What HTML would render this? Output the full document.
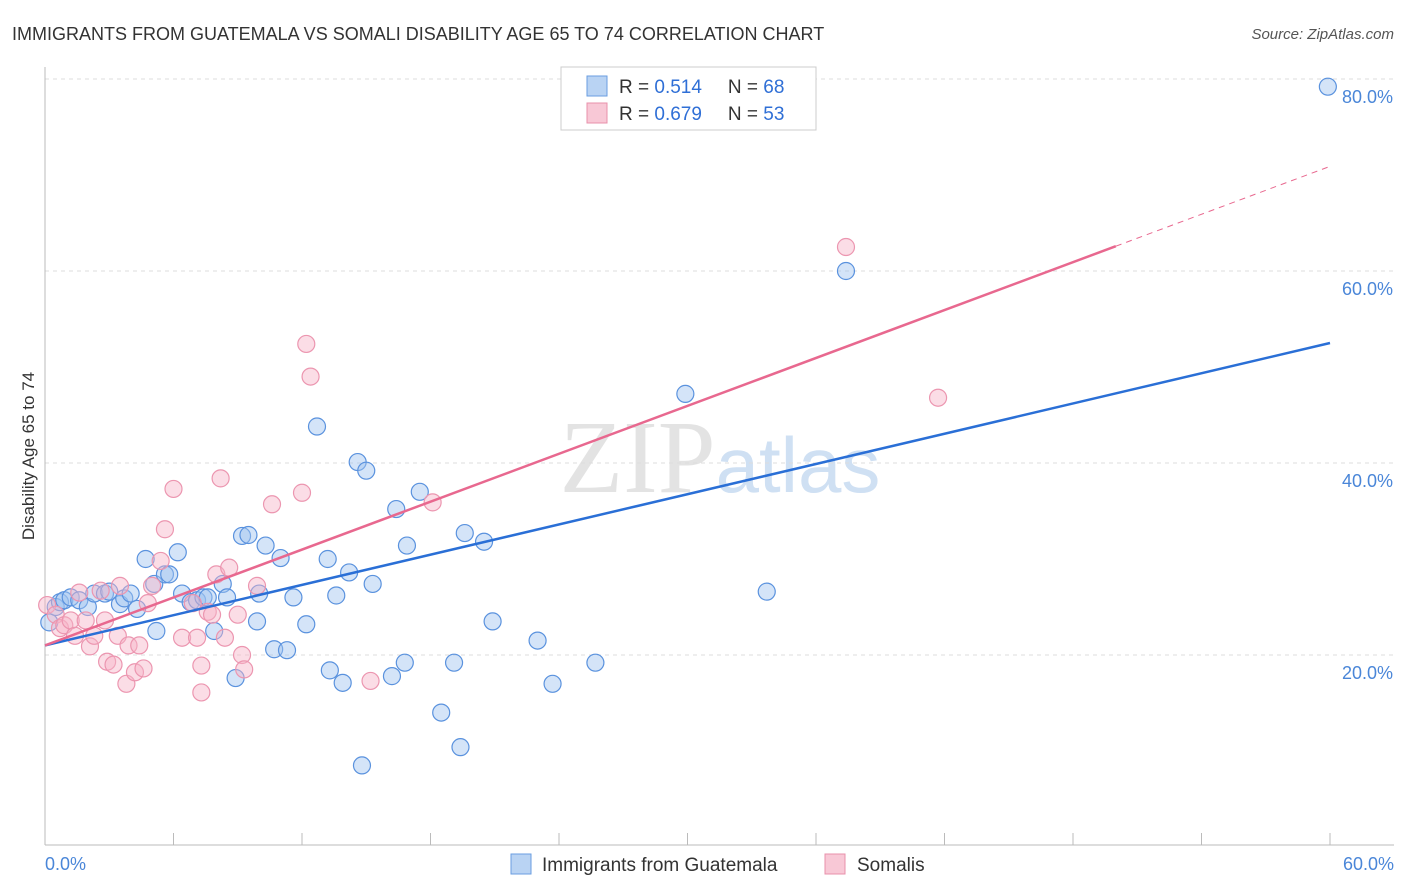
<!DOCTYPE html>
<html><head><meta charset="utf-8"><style>
body{margin:0;background:#fff;font-family:"Liberation Sans",sans-serif;}
svg{display:block}
</style></head><body>
<svg id="chart" width="1406" height="892">
<text x="12" y="40" font-size="18" fill="#333">IMMIGRANTS FROM GUATEMALA VS SOMALI DISABILITY AGE 65 TO 74 CORRELATION CHART</text>
<text x="1394" y="39" font-size="15" fill="#555" font-style="italic" text-anchor="end">Source: ZipAtlas.com</text>
<text x="720" y="492" font-size="104" fill="#e3e3e3" text-anchor="middle" font-family="Liberation Serif,serif">ZIP<tspan fill="#cfe0f3" font-family="Liberation Sans,sans-serif" font-size="78">atlas</tspan></text>
<g id="grid"></g>
<line x1="45" y1="67" x2="45" y2="845" stroke="#bbb"/>
<line x1="45" y1="845" x2="1394" y2="845" stroke="#bbb"/>
<text transform="translate(34,456) rotate(-90)" font-size="17" fill="#333" text-anchor="middle">Disability Age 65 to 74</text>
<text x="45" y="870" font-size="18" fill="#4a86d8">0.0%</text>
<text x="1394" y="870" font-size="18" fill="#4a86d8" text-anchor="end">60.0%</text>
<g id="points"></g>
<g id="lines"></g>
<g>
<rect x="561" y="67" width="255" height="63" fill="#fff" stroke="#ccc"/>
<rect x="587" y="76" width="20" height="20" fill="#b9d3f3" stroke="#6a9ee0"/>
<rect x="587" y="103" width="20" height="20" fill="#f8c8d6" stroke="#e890ab"/>
<text x="619" y="93" font-size="19" fill="#333">R = <tspan fill="#2f6fd6">0.514</tspan><tspan dx="26">N = </tspan><tspan fill="#2f6fd6">68</tspan></text>
<text x="619" y="120" font-size="19" fill="#333">R = <tspan fill="#2f6fd6">0.679</tspan><tspan dx="26">N = </tspan><tspan fill="#2f6fd6">53</tspan></text>
</g>
<g>
<rect x="511" y="854" width="20" height="20" fill="#b9d3f3" stroke="#6a9ee0"/>
<text x="542" y="871" font-size="19" fill="#333">Immigrants from Guatemala</text>
<rect x="825" y="854" width="20" height="20" fill="#f8c8d6" stroke="#e890ab"/>
<text x="857" y="871" font-size="19" fill="#333">Somalis</text>
</g>
</svg>
<script>
const yTicks=[20,40,60,80];
const xTicks=[0,6,12,18,24,30,36,42,48,54,60];
const blueX=[0.2,0.5,0.7,0.9,1.2,1.6,2.0,2.3,2.8,3.0,3.5,3.7,4.0,4.3,4.7,5.1,5.2,5.6,5.8,6.2,6.4,6.8,7.1,7.4,7.6,7.9,8.3,8.5,8.9,9.2,9.5,9.9,10.0,10.3,10.7,11.0,11.3,11.6,12.2,12.7,13.2,13.3,13.6,13.9,14.2,14.6,14.8,15.0,15.3,16.2,16.4,16.8,16.9,17.5,18.5,19.1,19.4,19.6,20.5,20.9,23.0,23.7,25.7,29.9,33.7,37.4,59.9];
const blueY=[23.4,25.0,25.5,25.7,26.0,25.7,25.0,26.4,26.4,26.6,25.3,25.9,26.4,24.8,30.0,27.4,22.5,28.4,28.4,30.7,26.4,25.5,25.7,26.0,26.0,22.5,27.4,26.0,17.6,32.4,32.5,23.5,26.4,31.4,20.6,30.1,20.5,26.0,23.2,43.8,30.0,18.4,26.2,17.1,28.6,40.1,8.5,39.2,27.4,17.8,35.2,19.2,31.4,37.0,14.0,19.2,10.4,32.7,31.8,23.5,21.5,17.0,19.2,47.2,26.6,60.0,79.2];
const pinkX=[0.1,0.5,0.7,0.9,1.2,1.4,1.6,1.9,2.1,2.3,2.6,2.8,2.9,3.2,3.4,3.5,3.8,3.9,4.2,4.4,4.6,4.8,5.0,5.4,5.6,6.0,6.4,6.9,7.1,7.3,7.3,7.6,7.8,8.0,8.2,8.4,8.6,9.0,9.2,9.3,9.9,10.6,12.0,12.2,12.4,15.2,18.1,37.4,41.7];
const pinkY=[25.2,24.2,22.8,23.1,23.6,22.0,26.5,23.6,20.9,22.0,26.7,23.6,19.3,19.0,22.0,27.2,17.0,21.0,18.2,21.0,18.6,25.4,27.2,29.8,33.1,37.3,21.8,25.4,21.8,18.9,16.1,24.5,24.2,28.4,38.4,21.8,29.1,24.2,20.0,18.5,27.2,35.7,36.9,52.4,49.0,17.3,35.9,62.5,46.8];
const blueLine=[21.0,52.5];
const pinkLine=[21.0,70.9];
const pinkSolidEnd=50;
const X=v=>45+v/60*1285;
const Y=v=>847-v*9.6;
const NS="http://www.w3.org/2000/svg";
function mk(t,a,p){const e=document.createElementNS(NS,t);for(const k in a)e.setAttribute(k,a[k]);p.appendChild(e);return e;}
const grid=document.getElementById('grid');
yTicks.forEach(v=>{
 const l=mk('line',{x1:45,x2:1394,y1:Y(v),y2:Y(v),stroke:'#ddd','stroke-dasharray':'4,4'},grid);
 
 
 const t=mk('text',{x:1393,y:Y(v)+24,'font-size':18,fill:'#4a86d8','text-anchor':'end'},grid);
 t.textContent=v.toFixed(1)+'%';
 
 
});
xTicks.forEach(v=>{
 const l=mk('line',{x1:X(v),x2:X(v),y1:833,y2:845,stroke:'#bbb'},grid);
 
 
});
const pts=document.getElementById('points');
blueX.forEach((x,i)=>{
 const c=mk('circle',{cx:X(x),cy:Y(blueY[i]),r:8.5,fill:'rgba(160,196,240,0.45)',stroke:'#5a92de','stroke-width':1.2},pts);
 
 
});
pinkX.forEach((x,i)=>{
 const c=mk('circle',{cx:X(x),cy:Y(pinkY[i]),r:8.5,fill:'rgba(246,180,200,0.45)',stroke:'#ec96b0','stroke-width':1.2},pts);
 
 
});
const ln=document.getElementById('lines');
const bl=mk('line',{x1:X(0),y1:Y(blueLine[0]),x2:X(60),y2:Y(blueLine[1]),stroke:'#2a6fd6','stroke-width':2.5},ln);


const pf=v=>pinkLine[0]+(pinkLine[1]-pinkLine[0])*v/60;
const pl=mk('line',{x1:X(0),y1:Y(pf(0)),x2:X(pinkSolidEnd),y2:Y(pf(pinkSolidEnd)),stroke:'#e8688f','stroke-width':2.5},ln);


const pd=mk('line',{x1:X(pinkSolidEnd),y1:Y(pf(pinkSolidEnd)),x2:X(60),y2:Y(pf(60)),stroke:'#e8688f','stroke-width':1,'stroke-dasharray':'6,5'},ln);


</script>
</body></html>
